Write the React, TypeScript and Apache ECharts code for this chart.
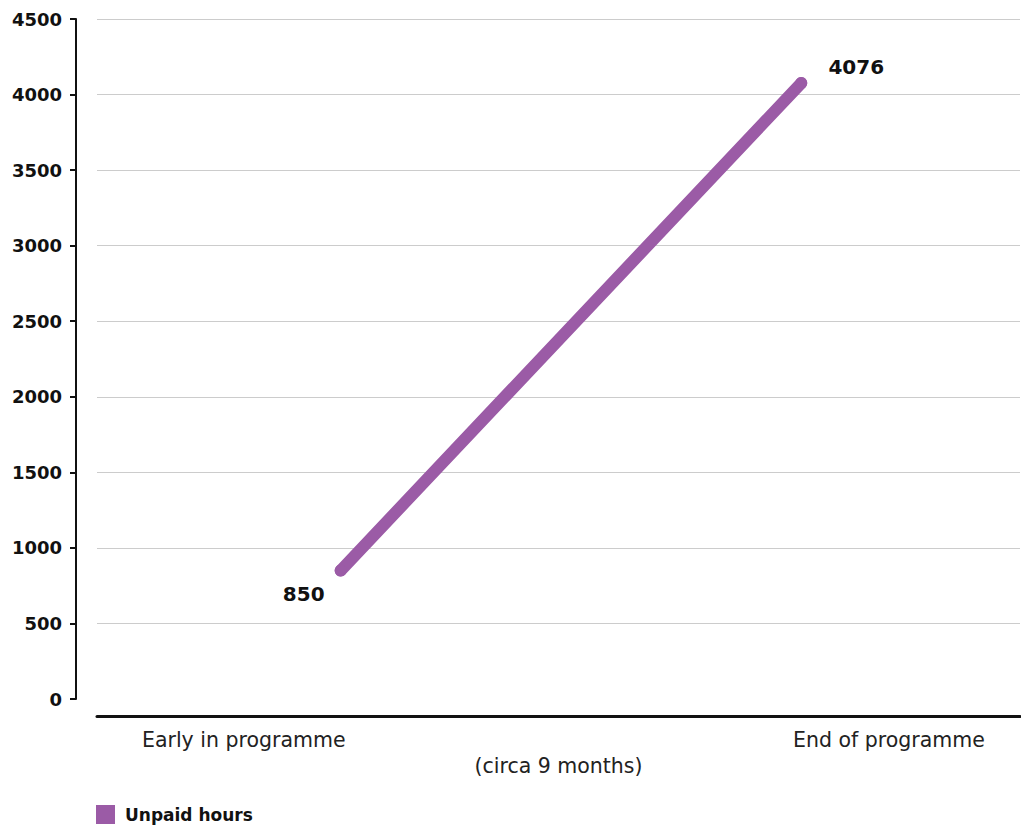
import React, { useEffect, useRef } from "react";
import * as echarts from "echarts";

const categories = ["Early in programme", "End of programme"];
const categoryPositions = [0.159, 0.858];
const pointPositions = [0.264, 0.763];
const unpaidHours = [850, 4076];
const yTicks = [0, 500, 1000, 1500, 2000, 2500, 3000, 3500, 4000, 4500];
const seriesName = "Unpaid hours";
const xAxisName = "(circa 9 months)";

const PURPLE = "#9B5BA6";
const FONT = "DejaVu Sans";

export default function App() {
  const ref = useRef<HTMLDivElement>(null);
  useEffect(() => {
    if (!ref.current) return;
    const chart = echarts.init(ref.current, undefined, { renderer: "svg" });
    const labelOffsets = [
      [-37, 23],
      [55, -16],
    ];
    chart.setOption({
      animation: false,
      grid: { left: 97, right: 1, top: 19, bottom: 126, containLabel: false },
      xAxis: {
        type: "value",
        min: 0,
        max: 1,
        offset: 17,
        name: xAxisName,
        nameLocation: "middle",
        nameGap: 39,
        nameTextStyle: { fontFamily: FONT, fontSize: 20.5, color: "#222" },
        axisLine: { show: true, onZero: false, lineStyle: { color: "#111", width: 3 } },
        axisTick: { show: false },
        splitLine: { show: false },
        axisLabel: {
          customValues: categoryPositions,
          formatter: (v: number) => {
            const i = categoryPositions.findIndex((p) => Math.abs(p - v) < 1e-6);
            return i >= 0 ? categories[i] : "";
          },
          margin: 13,
          fontFamily: FONT,
          fontSize: 20.5,
          color: "#222",
        },
      },
      yAxis: {
        type: "value",
        min: yTicks[0],
        max: yTicks[yTicks.length - 1],
        interval: 500,
        offset: 21,
        axisLine: { show: true, onZero: false, lineStyle: { color: "#111", width: 2 } },
        axisTick: { show: true, length: 6, lineStyle: { color: "#111", width: 2 } },
        axisLabel: {
          margin: 14,
          formatter: (v: number) => String(v),
          fontFamily: FONT,
          fontSize: 18,
          fontWeight: "bold",
          color: "#111",
        },
        splitLine: {
          show: true,
          showMinLine: false,
          lineStyle: { color: "#cccccc", width: 1 },
        },
      },
      legend: {
        left: 96,
        bottom: 1,
        padding: 0,
        itemWidth: 19,
        itemHeight: 19,
        icon: "rect",
        itemGap: 10,
        textStyle: {
          fontFamily: FONT,
          fontSize: 17,
          fontWeight: "bold",
          color: "#111",
          padding: [0, 0, 0, 5],
        },
        data: [{ name: seriesName, itemStyle: { color: PURPLE } }],
      },
      series: [
        {
          name: seriesName,
          type: "line",
          data: unpaidHours.map((v, i) => ({
            value: [pointPositions[i], v],
            label: { offset: labelOffsets[i] },
          })),
          symbol: "circle",
          symbolSize: 12,
          itemStyle: { color: PURPLE },
          lineStyle: { color: PURPLE, width: 12, cap: "round" },
          label: {
            show: true,
            position: "inside",
            formatter: (p: any) => String(p.value[1]),
            fontFamily: FONT,
            fontSize: 20,
            fontWeight: "bold",
            color: "#111",
          },
        },
      ],
    });
    return () => chart.dispose();
  }, []);
  return (
    <div
      ref={ref}
      style={{ position: "fixed", left: 0, top: 0, width: 1021, height: 825, background: "#fff" }}
    />
  );
}
